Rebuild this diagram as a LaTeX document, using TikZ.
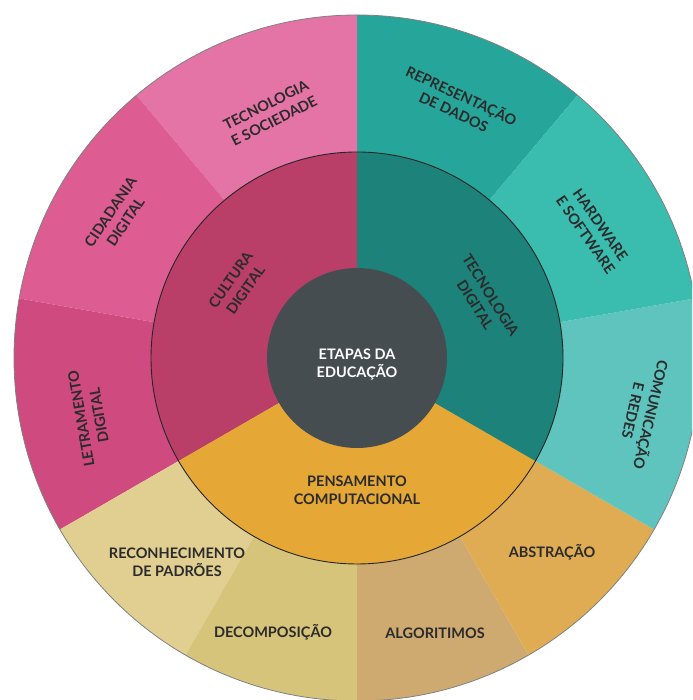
\documentclass[tikz,border=0pt]{standalone}
\usepackage{fontspec}
\newfontfamily\lblfont{Lato}
\definecolor{ctsoc}{HTML}{E474A6}
\definecolor{ccid}{HTML}{DD5C91}
\definecolor{clet}{HTML}{CF4A7F}
\definecolor{ccult}{HTML}{B93F69}
\definecolor{crep}{HTML}{26A59A}
\definecolor{chard}{HTML}{3ABCAF}
\definecolor{ccom}{HTML}{5FC4BE}
\definecolor{ctecd}{HTML}{1D827A}
\definecolor{cpens}{HTML}{E5A836}
\definecolor{crec}{HTML}{E1CF91}
\definecolor{cdec}{HTML}{D5C479}
\definecolor{calg}{HTML}{CFAA70}
\definecolor{cabs}{HTML}{DFAC53}
\definecolor{ccenter}{HTML}{454D51}
\definecolor{textdark}{HTML}{2B2B2B}
\newcommand\sunsector[4]{\fill[#1] (c) -- ++(#2:#4) arc[start angle=#2, end angle=#3, radius=#4] -- cycle;}
\begin{document}
\begin{tikzpicture}[x=1pt,y=1pt,
  lbl/.style={font=\lblfont\bfseries\fontsize{14.5}{18}\selectfont, text=textdark, align=center, inner sep=0pt},
  centerlbl/.style={lbl, text=white},
  hub/.style={circle, fill=ccenter, minimum size=180pt, inner sep=0pt}]
\useasboundingbox (0,0) rectangle (692,700);
\clip (0,0) rectangle (692,700);
\coordinate (c) at (357,342);
% outer ring
\sunsector{crep}{50}{90}{343}
\sunsector{ctsoc}{90}{130}{343}
\sunsector{ccid}{130}{170}{343}
\sunsector{clet}{170}{210}{343}
\sunsector{crec}{210}{240}{343}
\sunsector{cdec}{240}{270}{343}
\sunsector{calg}{270}{300}{343}
\sunsector{cabs}{300}{330}{343}
\sunsector{ccom}{330}{370}{343}
\sunsector{chard}{10}{50}{343}
\draw[gray, line width=0.8pt] (c) circle[radius=343];
% middle ring
\sunsector{ccult}{90}{210}{206}
\sunsector{cpens}{210}{330}{206}
\sunsector{ctecd}{-30}{90}{206}
\draw[black!85, line width=0.9pt] (c) circle[radius=206];
% hub
\node[hub] (hub) at (c) {};
\node[centerlbl] (etapas) at (357,336) {ETAPAS DA\\EDUCAÇÃO};
% middle labels
\node[lbl, rotate=55] (cult) at (238,415) {CULTURA\\DIGITAL};
\node[lbl, rotate=-58] (tecd) at (483,400) {TECNOLOGIA\\DIGITAL};
\node[lbl] (pens) at (357,210) {PENSAMENTO\\COMPUTACIONAL};
% outer labels
\node[lbl, rotate=27] (tsoc) at (270,587) {TECNOLOGIA\\E SOCIEDADE};
\node[lbl, rotate=56] (cid) at (118,483) {CIDADANIA\\DIGITAL};
\node[lbl, rotate=100] (let) at (90,283) {LETRAMENTO\\DIGITAL};
\node[lbl, rotate=-25] (rep) at (458,597) {REPRESENTAÇÃO\\DE DADOS};
\node[lbl, rotate=-55] (hard) at (593,470) {HARDWARE\\E SOFTWARE};
\node[lbl, rotate=-103] (com) at (643,287) {COMUNICAÇÃO\\E REDES};
\node[lbl] (rec) at (177,138) {RECONHECIMENTO\\DE PADRÕES};
\node[lbl] (dec) at (273,68) {DECOMPOSIÇÃO};
\node[lbl] (alg) at (435,67) {ALGORITIMOS};
\node[lbl] (abs) at (552,148) {ABSTRAÇÃO};
\end{tikzpicture}
\end{document}
